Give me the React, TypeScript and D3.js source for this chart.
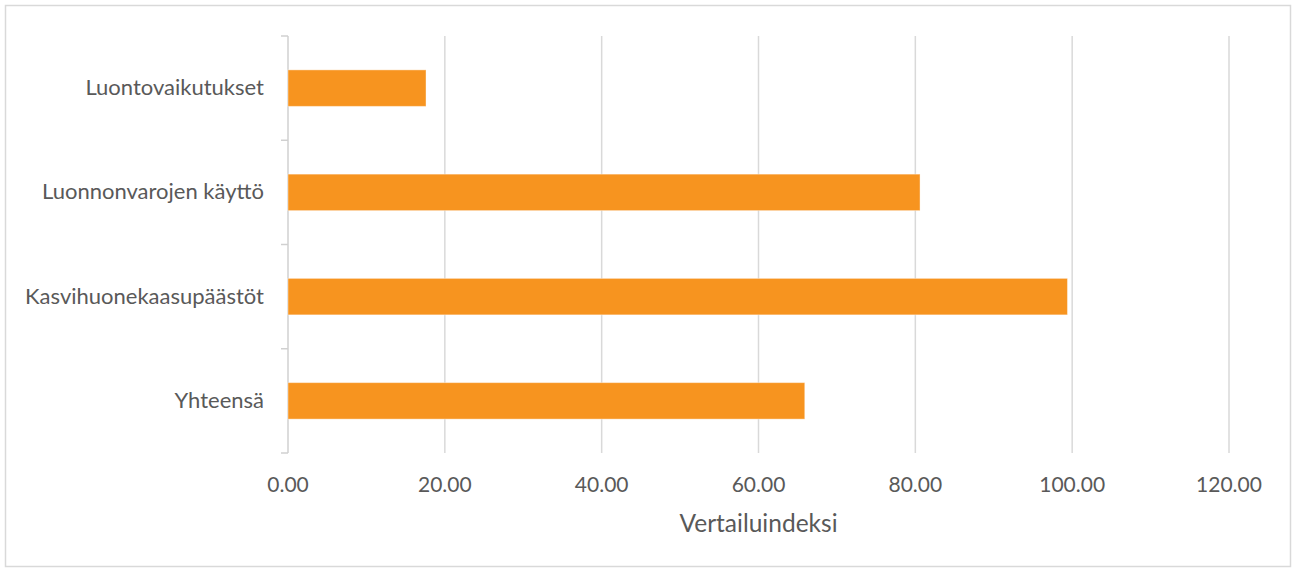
import React, { useEffect, useRef } from "react";
import * as d3 from "d3";

const categories = [
    "Luontovaikutukset",
    "Luonnonvarojen käyttö",
    "Kasvihuonekaasupäästöt",
    "Yhteensä",
];
const values = [17.6, 80.6, 99.4, 65.9];
const xTicks = [0, 20, 40, 60, 80, 100, 120];
const axisTitle = "Vertailuindeksi";

const W = 1292;
const H = 568;

const App: React.FC = () => {
    const svgRef = useRef<SVGSVGElement | null>(null);

    useEffect(() => {
        document.body.style.margin = "0";
        if (!svgRef.current) return;
        const margin = { top: 36, right: 63, bottom: 115, left: 288 };
        const width = W - margin.left - margin.right;
        const height = H - margin.top - margin.bottom;

        const svg = d3.select(svgRef.current);
        svg.selectAll("*").remove();

        // ulkoreunus
        svg.append("rect")
            .attr("x", 5.5)
            .attr("y", 5.5)
            .attr("width", W - 7)
            .attr("height", H - 7)
            .attr("fill", "#fff")
            .attr("stroke", "#d9d9d9")
            .attr("stroke-width", 1.5);

        const x = d3.scaleLinear().domain([0, 120]).range([0, width]);
        const y = d3.scaleBand<string>()
            .domain(categories)
            .range([0, height])
            .paddingInner(0.65)
            .paddingOuter(0.325);

        const g = svg.append("g")
            .attr("transform", `translate(${margin.left},${margin.top})`);

        // pystyviivat
        g.selectAll("line.grid")
            .data(xTicks.slice(1))
            .enter()
            .append("line")
            .attr("x1", (d) => x(d))
            .attr("x2", (d) => x(d))
            .attr("y1", 0)
            .attr("y2", height)
            .attr("stroke", "#d9d9d9")
            .attr("stroke-width", 1.5);

        // y-akseli ja jakoviivat
        g.append("line")
            .attr("x1", 0)
            .attr("x2", 0)
            .attr("y1", 0)
            .attr("y2", height)
            .attr("stroke", "#d0d0d0")
            .attr("stroke-width", 1.5);

        const bounds = [0, ...categories.map((c) => (y(c) as number) + y.bandwidth() + y.step() * y.paddingInner() / 2)];
        bounds[bounds.length - 1] = height;
        g.selectAll("line.tick")
            .data(bounds)
            .enter()
            .append("line")
            .attr("x1", -7)
            .attr("x2", 0)
            .attr("y1", (d) => d)
            .attr("y2", (d) => d)
            .attr("stroke", "#d0d0d0")
            .attr("stroke-width", 1.5);

        // palkit
        g.selectAll("rect.bar")
            .data(values)
            .enter()
            .append("rect")
            .attr("x", 0)
            .attr("y", (_, i) => y(categories[i]) as number)
            .attr("width", (d) => x(d))
            .attr("height", y.bandwidth())
            .attr("fill", "#f7941f")
            .attr("stroke", "#fff")
            .attr("stroke-opacity", 0.4)
            .attr("stroke-width", 1);

        const font = "Lato, 'Open Sans', sans-serif";

        // kategoriat
        g.selectAll("text.cat")
            .data(categories)
            .enter()
            .append("text")
            .attr("x", -24)
            .attr("y", (d) => (y(d) as number) + y.bandwidth() / 2 + 7)
            .attr("text-anchor", "end")
            .attr("fill", "#595959")
            .style("font-family", font)
            .style("font-size", "22px")
            .text((d) => d);

        // x-akselin numerot
        g.selectAll("text.xt")
            .data(xTicks)
            .enter()
            .append("text")
            .attr("x", (d) => x(d))
            .attr("y", height + 39)
            .attr("text-anchor", "middle")
            .attr("fill", "#595959")
            .style("font-family", font)
            .style("font-size", "21px")
            .text((d) => d3.format(".2f")(d));

        g.append("text")
            .attr("x", width / 2)
            .attr("y", height + 79)
            .attr("text-anchor", "middle")
            .attr("fill", "#595959")
            .style("font-family", font)
            .style("font-size", "24.5px")
            .text(axisTitle);
    }, []);

    return <svg ref={svgRef} width={W} height={H} style={{ display: "block" }}></svg>;
};

export default App;
